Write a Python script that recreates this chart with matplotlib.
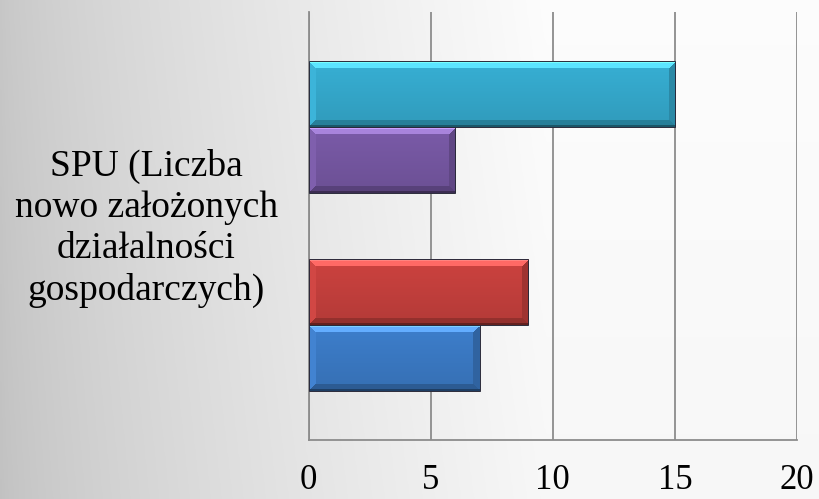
import numpy as np
import matplotlib
matplotlib.use('Agg')
from matplotlib import pyplot as plt
from matplotlib.colors import to_rgb
import matplotlib.transforms as mtransforms

# data: one category, five series (the middle one is empty)
kategoria = 'SPU (Liczba\nnowo założonych\ndziałalności\ngospodarczych)'
serie = ['Seria 1', 'Seria 2', 'Seria 3', 'Seria 4', 'Seria 5']
wartosci = [7, 9, np.nan, 6, 15]
kolory = ['#3c7cc8', '#c8413e', '#9bbb59', '#7859a5', '#36acd0']
xticks = [0, 5, 10, 15, 20]

plt.rcParams['font.family'] = ['Liberation Serif', 'DejaVu Serif']

fig = plt.figure(figsize=(8.19, 4.99), dpi=100)

# background gradient (darker on the left)
bg = fig.add_axes([0, 0, 1, 1], zorder=-10)
xx, yy = np.meshgrid(np.linspace(0, 1, 300), np.linspace(0, 1, 200))
g = 0.76 + 0.21 * np.clip(xx * 1.5, 0, 1) ** 0.75 + 0.02 * yy
bg.imshow(np.dstack([g, g, g]), extent=[0, 1, 0, 1], aspect='auto', origin='lower')
bg.axis('off')

ax = fig.add_axes([0.377, 0.118, 0.596, 0.858])
ax.patch.set_alpha(0)
ax.set_xlim(0, 20)
ax.set_ylim(-0.5, 0.5)

n = len(serie)
h = 1 / (n + 1.5)
pozycje = (np.arange(n) - (n - 1) / 2) * h


def bevel(c, w, hgt, b=7):
    # image of a bar with bevelled edges (w, hgt in pixels), row 0 = bottom
    rgb = np.array(to_rgb(c))
    yy, xx = np.mgrid[0:hgt, 0:w]
    t = yy / (hgt - 1)
    img = rgb * (0.9 + 0.12 * t)[..., None]
    d_top = hgt - 1 - yy
    d_bot = yy
    d_lef = xx
    d_rig = w - 1 - xx
    dmin = np.minimum(np.minimum(d_top, d_bot), np.minimum(d_lef, d_rig))
    edge = dmin < b
    img[edge & (d_lef == dmin)] = np.clip(rgb * 1.02 + 0.02, 0, 1)
    img[edge & (d_rig == dmin)] = rgb * 0.8
    img[edge & (d_bot == dmin)] = rgb * 0.74
    img[edge & (d_top == dmin)] = np.clip(rgb * 1.15 + 0.12, 0, 1)
    img[d_top < 2] = np.clip(rgb * 1.25 + 0.2, 0, 1)
    img[d_bot < 2] = rgb * 0.5
    return img


fig.canvas.draw()
for y, v, c in zip(pozycje, wartosci, kolory):
    if np.isnan(v):
        continue
    ax.barh(y, v, height=h, color=c, edgecolor='none', zorder=3)
    p0 = ax.transData.transform((0, y - h / 2))
    p1 = ax.transData.transform((v, y + h / 2))
    wpx = int(round(p1[0] - p0[0]))
    hpx = int(round(p1[1] - p0[1]))
    ax.imshow(bevel(c, wpx, hpx), extent=[0, v, y - h / 2, y + h / 2],
              origin='lower', aspect='auto', zorder=4, interpolation='antialiased')
    ax.barh(y, v, height=h, color='none', edgecolor='#2a2a3a', linewidth=0.7, zorder=5)

ax.set_xlim(0, 20)
ax.set_ylim(-0.5, 0.5)
ax.set_xticks(xticks)
ax.set_xticklabels([str(t) for t in xticks], fontsize=25)
ax.tick_params(axis='x', length=0, pad=17)
ax.set_yticks([0])
ax.set_yticklabels([kategoria], fontsize=27, linespacing=1.24, ha='center')
ax.tick_params(axis='y', length=0, pad=117)
przesun = mtransforms.ScaledTranslation(0, 5 / 100, fig.dpi_scale_trans)
for lab in ax.get_yticklabels():
    lab.set_transform(lab.get_transform() + przesun)
ax.grid(axis='x', color='#8c8c8c', linewidth=1.3, zorder=0)
ax.set_axisbelow(True)
for s in ['top', 'right']:
    ax.spines[s].set_visible(False)
for s in ['left', 'bottom']:
    ax.spines[s].set_color('#8c8c8c')
    ax.spines[s].set_linewidth(1.3)

fig.savefig('out.png', dpi=100)
